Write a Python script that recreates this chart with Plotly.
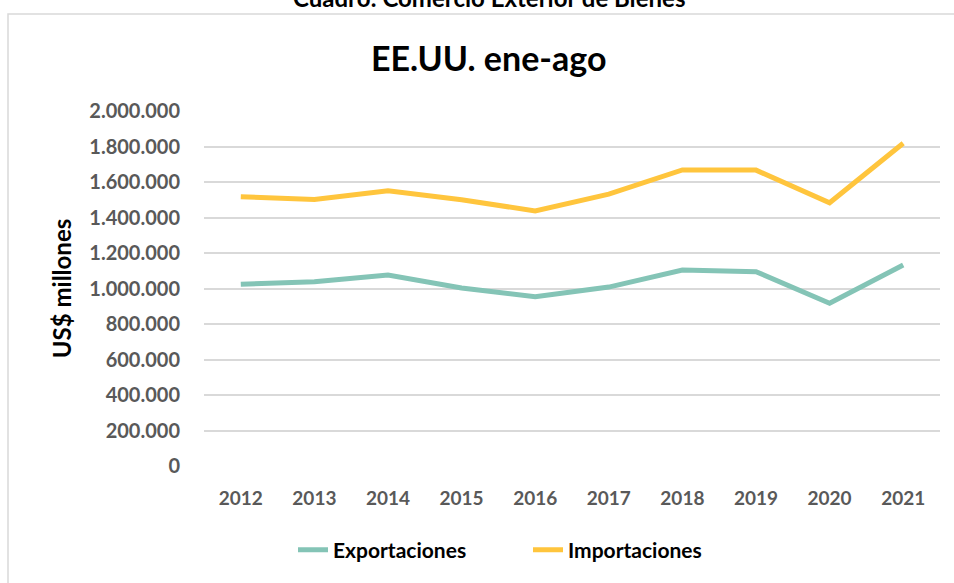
import plotly.graph_objects as go

# EE.UU. ene-ago, US$ millones
years = ['2012', '2013', '2014', '2015', '2016', '2017', '2018', '2019', '2020', '2021']
exportaciones = [1024000, 1038000, 1076000, 1003000, 954000, 1008000, 1104000, 1095000, 917000, 1132000]
importaciones = [1517000, 1502000, 1551000, 1500000, 1437000, 1532000, 1668000, 1667000, 1483000, 1818000]
y_ticks = [0, 200000, 400000, 600000, 800000, 1000000, 1200000, 1400000, 1600000, 1800000, 2000000]

font_family = 'Lato, Open Sans, sans-serif'
teal = '#84C4B6'
yellow = '#FFC53D'

fig = go.Figure()
fig.add_trace(go.Scatter(x=years, y=exportaciones, name='Exportaciones', mode='lines',
                         line=dict(color=teal, width=5)))
fig.add_trace(go.Scatter(x=years, y=importaciones, name='Importaciones', mode='lines',
                         line=dict(color=yellow, width=5)))

# plot area in pixels: left 204, right 940, top 111, bottom 466
L, R, T, B = 204, 940, 111, 466
W, H = R - L, B - T
def px_x(x):
    return (x - L) / W
def px_y(y):
    return (B - y) / H

fig.update_layout(
    width=954, height=583,
    margin=dict(l=L, r=954 - R, t=T, b=583 - B),
    paper_bgcolor='white', plot_bgcolor='white',
    separators=',.',
    font=dict(family=font_family, color='#595959'),
    showlegend=True,
    legend=dict(orientation='h', x=px_x(293), xanchor='left', y=px_y(550), yanchor='middle',
                font=dict(size=21, color='black', family=font_family, weight='bold'),
                entrywidth=190, itemwidth=30, tracegroupgap=0),
    hovermode=False,
)
fig.update_xaxes(range=[-0.5, 9.5], showgrid=False, showline=False, ticks='', fixedrange=True,
                 ticklabelstandoff=19,
                 tickfont=dict(size=19, color='#595959', weight='bold'))
fig.update_yaxes(range=[0, 2000000], tickvals=y_ticks, tickformat=',d',
                 showgrid=True, gridcolor='#d9d9d9', gridwidth=1.5,
                 zeroline=False, showline=False, ticks='', ticklabelstandoff=23,
                 tickfont=dict(size=20, color='#595959', weight='bold'),
                 title=dict(text='US$ millones', standoff=10,
                            font=dict(size=24, color='black', weight='bold')))

fig.add_annotation(text='EE.UU. ene-ago', xref='paper', yref='paper',
                   x=px_x(488), y=px_y(58), xanchor='center', yanchor='middle',
                   showarrow=False, font=dict(size=34, color='black', weight='bold'))
fig.add_annotation(text='Cuadro: Comercio Exterior de Bienes', xref='paper', yref='paper',
                   x=px_x(489), y=px_y(-3), xanchor='center', yanchor='middle',
                   showarrow=False, font=dict(size=24, color='black', weight='bold'))

# outer chart frame
fig.add_shape(type='rect', xref='paper', yref='paper',
              x0=px_x(8), x1=px_x(962), y0=px_y(600), y1=px_y(14),
              line=dict(color='#d9d9d9', width=1.5), layer='below')

fig.write_html('out.html', config={'displayModeBar': False},
               post_script="document.body.style.margin='0';document.body.style.overflow='hidden';")
